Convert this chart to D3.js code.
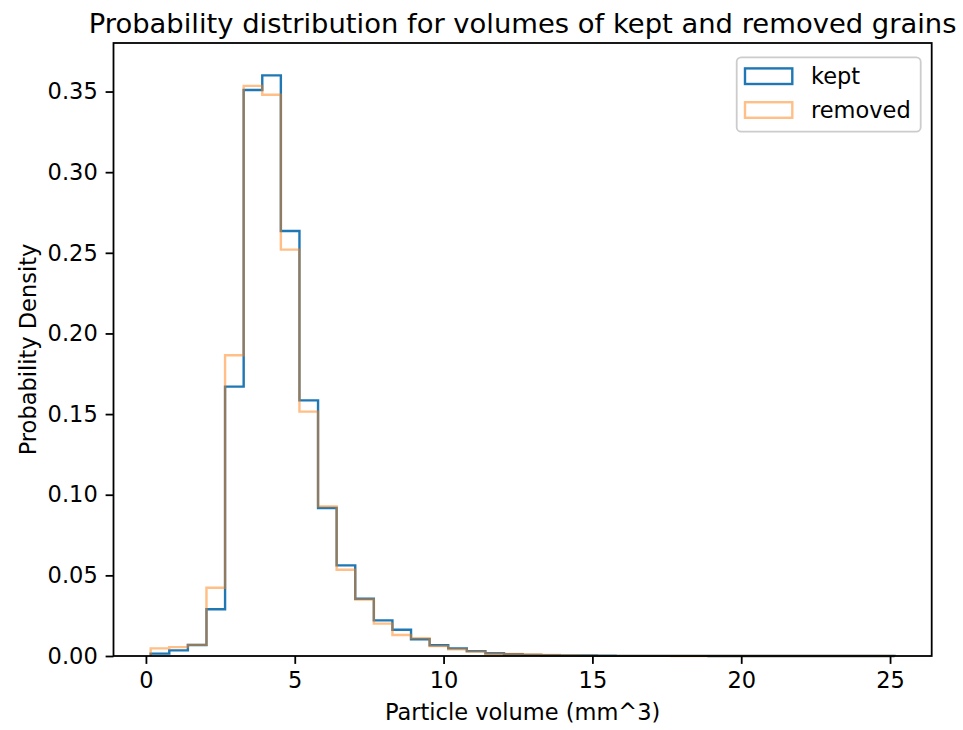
<!DOCTYPE html>
<html>
<head>
<meta charset="utf-8">
<script src="https://cdn.jsdelivr.net/npm/d3@7"></script>
<style>
  html, body { margin: 0; padding: 0; background: #fff; }
  svg { display: block; font-family: "DejaVu Sans", sans-serif; }
</style>
</head>
<body>
<svg id="chart" width="963" height="730"></svg>
<script>
// ---- data ----
const binStart = 0.16;
const binEnd = 25.15;
const binCount = 40;
const kept = [0.0015, 0.0035, 0.0068, 0.0290, 0.1670, 0.3510, 0.3600, 0.2635, 0.1585, 0.0918,
              0.0562, 0.0355, 0.0221, 0.0163, 0.0104, 0.0067, 0.0047, 0.0030, 0.0017, 0.0011,
              0.0007, 0.0005, 0.0004, 0.0003, 0.0002, 0.0001, 0.0001, 0.0001, 0.00005, 0.00005,
              0.00003, 0.00003, 0.00002, 0.00002, 0.00001, 0.00001, 0.00001, 0.00001, 0.0, 0.00001];
const removed = [0.0047, 0.0055, 0.0069, 0.0423, 0.1865, 0.3535, 0.3480, 0.2520, 0.1515, 0.0928,
                 0.0535, 0.0350, 0.0201, 0.0130, 0.0111, 0.0061, 0.0041, 0.0027, 0.0014, 0.0012,
                 0.0009, 0.0006, 0.0003, 0.0002, 0.0001, 0.0001, 0.00005, 0.00005, 0.00003, 0.00002,
                 0.00001, 0, 0, 0, 0, 0, 0, 0, 0, 0];
const seriesNames = ["kept", "removed"];
const xTicks = [0, 5, 10, 15, 20, 25];
const yTicks = [0, 0.05, 0.10, 0.15, 0.20, 0.25, 0.30, 0.35];
const yTop = 0.3801;
const titleText = "Probability distribution for volumes of kept and removed grains";
const xLabel = "Particle volume (mm^3)";
const yLabel = "Probability Density";

// ---- layout ----
const L = 113.5, R = 931.7, T = 43, B = 656;
const fs = 22.5;
const svg = d3.select("#chart");

const span = binEnd - binStart;
const x = d3.scaleLinear().domain([binStart - 0.05 * span, binEnd + 0.05 * span]).range([L, R]);
const y = d3.scaleLinear().domain([0, yTop]).range([B, T]);
const bw = span / binCount;
const edges = d3.range(binCount + 1).map(i => binStart + i * bw);

function stepPath(vals) {
  let p = d3.path();
  p.moveTo(x(edges[0]), y(0));
  vals.forEach((v, i) => {
    p.lineTo(x(edges[i]), y(v));
    p.lineTo(x(edges[i + 1]), y(v));
  });
  p.lineTo(x(edges[binCount]), y(0));
  return p.toString();
}

const colors = ["#1f77b4", "#ff7f0e"];
const opac = [1, 0.5];
const lw = 2.4;

// histograms
[kept, removed].forEach((vals, k) => {
  svg.append("path").attr("d", stepPath(vals))
    .attr("fill", "none").attr("stroke", colors[k]).attr("stroke-opacity", opac[k])
    .attr("stroke-width", lw).attr("stroke-linejoin", "miter");
});

// axes
const xAxis = d3.axisBottom(x).tickValues(xTicks).tickFormat(d3.format("d"))
  .tickSize(7.9).tickPadding(7.9);
const yAxis = d3.axisLeft(y).tickValues(yTicks).tickFormat(d3.format(".2f"))
  .tickSize(7.9).tickPadding(7.9);
const gx = svg.append("g").attr("transform", `translate(0,${B})`).call(xAxis);
const gy = svg.append("g").attr("transform", `translate(${L},0)`).call(yAxis);
[gx, gy].forEach(g => {
  g.select(".domain").remove();
  g.selectAll(".tick line").attr("stroke", "#000").attr("stroke-width", 1.8);
  g.selectAll(".tick text").attr("fill", "#000").style("font-size", fs + "px")
    .style("font-family", "DejaVu Sans");
});

// frame
svg.append("rect").attr("x", L).attr("y", T).attr("width", R - L).attr("height", B - T)
  .attr("fill", "none").attr("stroke", "#000").attr("stroke-width", 1.8);

// title & labels
svg.append("text").attr("x", (L + R) / 2).attr("y", 33).attr("text-anchor", "middle")
  .style("font-size", "27.4px").text(titleText);
svg.append("text").attr("x", (L + R) / 2).attr("y", 720).attr("text-anchor", "middle")
  .style("font-size", fs + "px").text(xLabel);
svg.append("text").attr("transform", `translate(36,${(T + B) / 2}) rotate(-90)`)
  .attr("text-anchor", "middle").style("font-size", fs + "px").text(yLabel);

// legend
const lg = svg.append("g");
lg.append("rect").attr("x", 736.7).attr("y", 57.3).attr("width", 184).attr("height", 74.4)
  .attr("rx", 4.5).attr("fill", "#fff").attr("fill-opacity", 0.8)
  .attr("stroke", "#cccccc").attr("stroke-width", 1.8);
seriesNames.forEach((name, k) => {
  const cy = 76.2 + k * 33.8;
  lg.append("rect").attr("x", 745).attr("y", cy - 7.8).attr("width", 47.3).attr("height", 15.6)
    .attr("fill", "none").attr("stroke", colors[k]).attr("stroke-opacity", opac[k])
    .attr("stroke-width", lw);
  lg.append("text").attr("x", 811).attr("y", cy + 8).style("font-size", fs + "px").text(name);
});
</script>
</body>
</html>
